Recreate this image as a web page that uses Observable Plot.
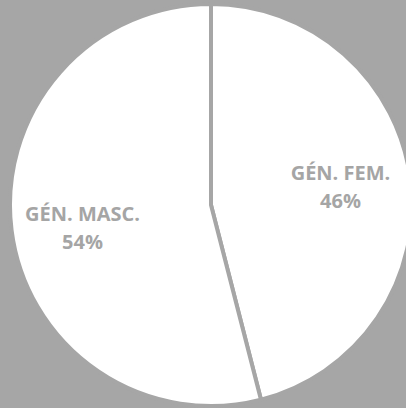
<!DOCTYPE html>
<html>
<head>
<meta charset="utf-8">
<script src="https://cdn.jsdelivr.net/npm/d3@7"></script>
<script src="https://cdn.jsdelivr.net/npm/@observablehq/plot@0.6"></script>
<style>
  html, body { margin: 0; padding: 0; background: #a6a6a6; }
  #chart { width: 406px; height: 408px; overflow: hidden; }
</style>
</head>
<body>
<div id="chart"></div>
<script>
const categories = ["GÉN. FEM.", "GÉN. MASC."];
const values = [46, 54];
const percentLabels = ["46%", "54%"];

const data = categories.map((c, i) => ({category: c, value: values[i], pct: percentLabels[i]}));
const pie = d3.pie().value(d => d.value).sort(null);
const arcs = pie(data);

const labelRadius = 0.65;
const labelTurn = -2 * Math.PI / 180;
const labels = arcs.map(a => {
  const mid = (a.startAngle + a.endAngle) / 2 + labelTurn;
  return {x: labelRadius * Math.sin(mid), y: labelRadius * Math.cos(mid), text: a.data.category + "\n" + a.data.pct};
});

const cx = 211, cy = 205, R = 201;
const bg = "#a6a6a6";

const pieMark = (index, scales) => {
  const x0 = scales.x(0), y0 = scales.y(0);
  const r = scales.x(1) - scales.x(0);
  const arcGen = d3.arc().innerRadius(0).outerRadius(r);
  const g = d3.create("svg:g").attr("transform", `translate(${x0},${y0})`);
  g.selectAll("path").data(arcs).join("path")
    .attr("d", arcGen)
    .attr("fill", "#ffffff")
    .attr("stroke", bg)
    .attr("stroke-width", 4)
    .attr("stroke-linejoin", "miter");
  return g.node();
};

const chart = Plot.plot({
  width: 406,
  height: 408,
  margin: 0,
  style: {background: bg, overflow: "hidden"},
  x: {domain: [-1, 1], range: [cx - R, cx + R], axis: null},
  y: {domain: [-1, 1], range: [cy + R, cy - R], axis: null},
  marks: [
    pieMark,
    Plot.text(labels, {
      x: "x", y: "y", text: "text",
      fill: "#a5a5a5",
      fontSize: 20,
      fontWeight: "bold",
      fontFamily: "Open Sans",
      lineHeight: 1.4,
      textAnchor: "middle"
    })
  ]
});
document.getElementById("chart").appendChild(chart);
</script>
</body>
</html>
